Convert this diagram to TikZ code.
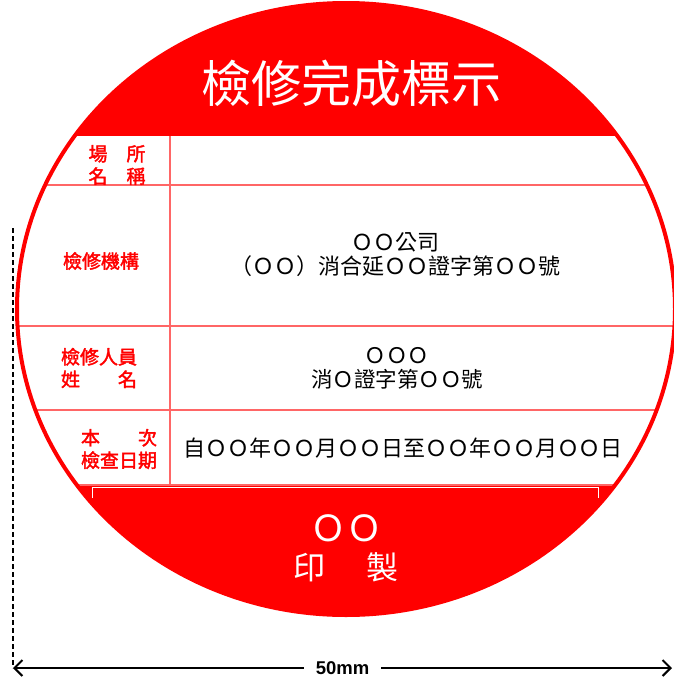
\documentclass[tikz,border=0pt]{standalone}
\usepackage{fontspec}
\setmainfont{Noto Sans CJK TC}
\setsansfont{Liberation Sans}
\newfontfamily\labelfont[FakeBold=2]{Noto Sans CJK TC}
\usetikzlibrary{arrows.meta, calc}

\begin{document}
\begin{tikzpicture}[x=1pt, y=-1pt,
	rowline/.style={draw=red!60, line width=1.2pt},
	tag/.style={text=red, align=center, inner sep=0pt, font=\labelfont\fontsize{19}{22.5}\selectfont},
	info/.style={align=center, inner sep=0pt, font=\fontsize{22}{24}\selectfont},
	banner/.style={text=white, align=center, inner sep=0pt},
	dimline/.style={line width=2.4pt, {Straight Barb[length=8pt, width=16pt, line width=2pt]}-{Straight Barb[length=8pt, width=16pt, line width=2pt]}}]
	\def\rx{329}
	\def\ry{306}
	\useasboundingbox (0,0) rectangle (674,678);
	\coordinate (C) at (346,309);
	\coordinate (dimL) at (13,668);
	\coordinate (dimR) at (672,668);
	\coordinate (dashT) at (13,228);

	% label face
	\fill[white]	(C) ellipse [x radius=\rx, y radius=\ry];
	\begin{scope}
		\clip	(C) ellipse [x radius=\rx, y radius=\ry];
		\fill[red]	(0,0) rectangle (690,136);
		\fill[red]	(0,485) rectangle (690,620);
		\foreach \y in {185,326,410,485}
			\draw[rowline]	(0,\y) -- (690,\y);
		\draw[rowline]	(170,136) -- (170,485);
		\draw[white, line width=0.8pt]	(92,498) -- (92,487) -- (598,487) -- (598,498);
	\end{scope}
	\draw[red, line width=4pt]	(C) ellipse [x radius=\rx, y radius=\ry];

	% texts
	\node[banner, font=\fontsize{50}{50}\selectfont]	(title) at (351,83) {檢修完成標示};
	\node[tag]	(place) at (117,165) {場　所\\名　稱};
	\node[tag]	(agency) at (101,261) {檢修機構};
	\node[tag]	(staff) at (99,368) {檢修人員\\姓　　名};
	\node[tag]	(date) at (119,449) {本　　次\\檢查日期};
	\node[info]	(agencyinfo) at (395,255) {ＯＯ公司\\（ＯＯ）消合延ＯＯ證字第ＯＯ號};
	\node[info, font=\fontsize{21.5}{24}\selectfont]	(staffinfo) at (397,368) {ＯＯＯ\\消Ｏ證字第ＯＯ號};
	\node[info]	(dateinfo) at (403,448) {自ＯＯ年ＯＯ月ＯＯ日至ＯＯ年ＯＯ月ＯＯ日};
	\node[banner, font=\fontsize{36}{36}\selectfont]	(maker) at (346,528) {ＯＯ};
	\node[banner, font=\fontsize{32}{32}\selectfont]	(printed) at (346,567) {印\hspace{42pt}製};

	% size
	\draw[dashed, dash pattern=on 5pt off 3pt, line width=1.1pt]	(dashT) -- (dimL);
	\draw[dimline]	(dimL) -- (dimR) node[midway, fill=white, inner xsep=12pt, inner ysep=1pt, font=\sffamily\bfseries\fontsize{18.5}{18.5}\selectfont] (size) {50mm};
\end{tikzpicture}
\end{document}
